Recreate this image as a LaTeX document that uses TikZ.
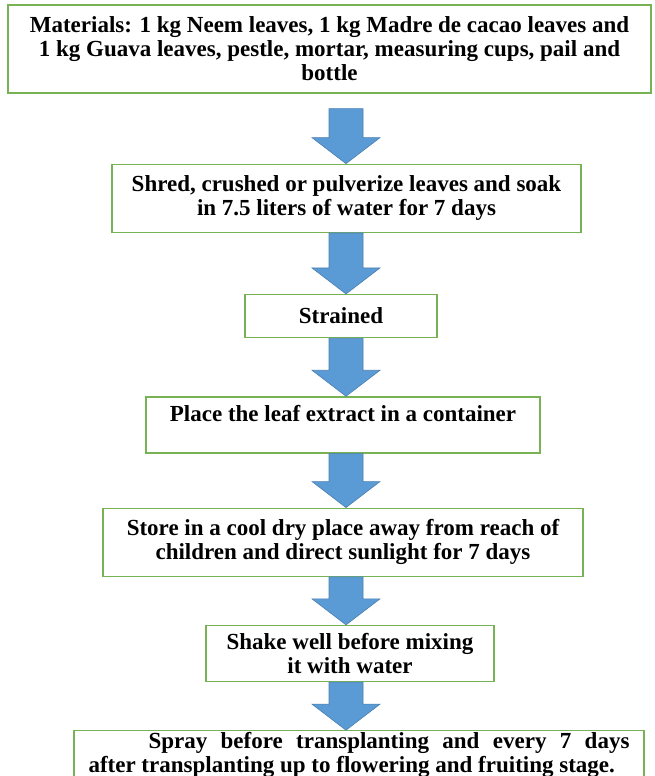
\documentclass[tikz,border=0pt]{standalone}
\usepackage{fontspec}
\setmainfont{Liberation Serif}
\usetikzlibrary{positioning,calc}

\definecolor{boxgreen}{HTML}{77B255}
\definecolor{arrowblue}{HTML}{5B9BD5}
\definecolor{arrowedge}{HTML}{4A7EB0}

%% block arrow from the bottom of one box to the top of the next
\newcommand{\blockarrow}[3][0]{%
  \path[fill=arrowblue, draw=arrowedge, line width=0.6pt, line join=miter]
    let \p1=($(#2.south -| ax)+(0,#1)$), \p2=(#3.north -| ax) in
    (\x1-17pt,\y1) -- (\x1+17pt,\y1) -- (\x1+17pt,\y2+26pt) -- (\x1+34pt,\y2+26pt)
    -- (\x1,\y2) -- (\x1-34pt,\y2+26pt) -- (\x1-17pt,\y2+26pt) -- cycle;
}

\begin{document}
\begin{tikzpicture}[x=1pt, y=-1pt,
    stepbox/.style={draw=boxgreen, line width=1.3pt, fill=white, align=center,
      font=\bfseries\fontsize{23}{24}\selectfont, inner xsep=4pt}]
        \useasboundingbox (0,0) rectangle (654,776);
        \clip (0,0) rectangle (654,776);
        \coordinate (ax) at (346,0);
        \node[stepbox, minimum width=643pt, minimum height=88pt] (s1) at (329.5,49)
            {Materials: 1 kg Neem leaves, 1 kg Madre de cacao leaves and\\
             1 kg Guava leaves, pestle, mortar, measuring cups, pail and\\ bottle};
        \node[stepbox, below=70pt of s1, xshift=17pt, minimum width=469pt, minimum height=68pt] (s2)
            {Shred, crushed or pulverize leaves and soak\\ in 7.5 liters of water for 7 days};
        \node[stepbox, below=61pt of s2, xshift=-5.5pt, minimum width=192pt, minimum height=43pt] (s3)
            {Strained};
        \node[stepbox, below=58pt of s3, xshift=2pt, minimum width=394pt, minimum height=56pt] (s4)
            {Place the leaf extract in a container\\ \mbox{}};
        \node[stepbox, below=54pt of s4, minimum width=480pt, minimum height=68pt] (s5)
            {Store in a cool dry place away from reach of\\ children and direct sunlight for 7 days};
        \node[stepbox, below=48pt of s5, xshift=7pt, minimum width=288pt, minimum height=56pt] (s6)
            {Shake well before mixing\\ it with water};
        %% last box runs past the bottom edge
        \node[stepbox, below=48pt of s6, xshift=9pt, align=justify, text width=541pt,
            inner xsep=14.5pt, inner ysep=0pt, minimum height=48pt,
            font=\bfseries\fontsize{23}{23.5}\selectfont] (s7)
            {\hspace*{60pt}Spray before transplanting and every 7 days\linebreak
             after transplanting up to flowering and fruiting stage.};
        \blockarrow[15]{s1}{s2}
        \blockarrow{s2}{s3}
        \blockarrow{s3}{s4}
        \blockarrow{s4}{s5}
        \blockarrow{s5}{s6}
        \blockarrow{s6}{s7}
\end{tikzpicture}
\end{document}
